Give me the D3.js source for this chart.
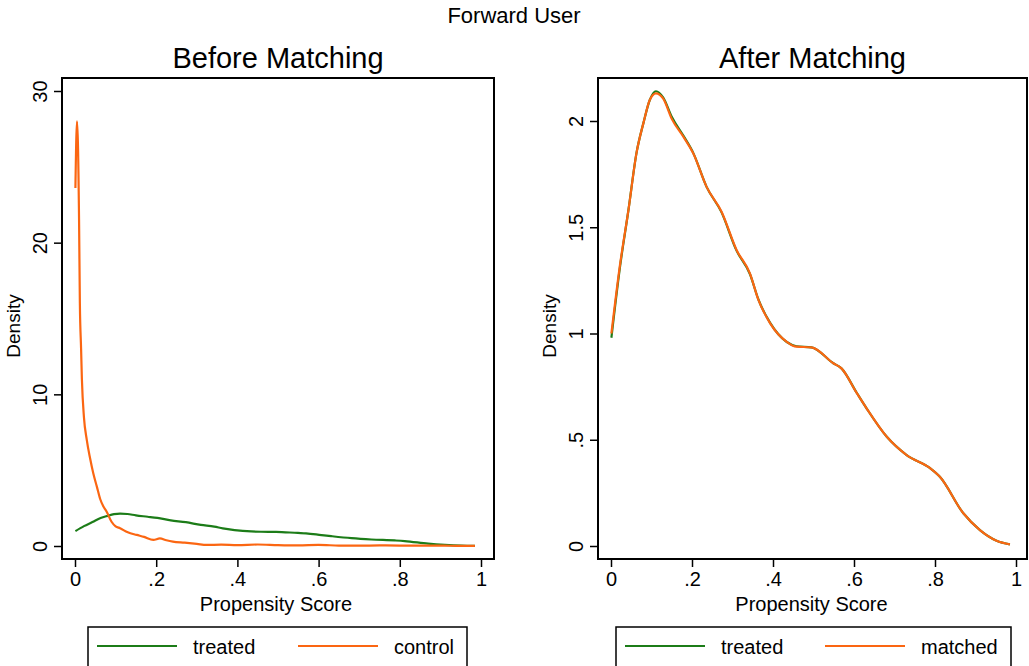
<!DOCTYPE html>
<html><head><meta charset="utf-8">
<script src="https://cdn.jsdelivr.net/npm/d3@7"></script>
<style>
html,body{margin:0;padding:0;background:#fff;}
svg{display:block;}
text{font-family:"Liberation Sans",Arial,sans-serif;fill:#000;}
</style></head>
<body>
<script>
// ---- data ----
const treatedX = [0.001,0.022,0.043,0.063,0.080,0.096,0.111,0.129,0.150,0.179,0.203,0.236,0.273,0.310,0.343,0.364,0.393,0.434,0.458,0.495,0.549,0.569,0.607,0.631,0.681,0.730,0.788,0.812,0.870,0.911,0.952,0.985];
const treatedY = [0.98,1.31,1.58,1.85,1.99,2.10,2.14,2.11,2.02,1.93,1.85,1.69,1.57,1.39,1.28,1.16,1.05,0.96,0.94,0.935,0.86,0.836,0.72,0.648,0.514,0.428,0.366,0.326,0.154,0.075,0.025,0.008];
const matchedY = [1.00,1.32,1.58,1.85,1.99,2.10,2.13,2.105,2.01,1.925,1.848,1.69,1.573,1.393,1.283,1.158,1.048,0.961,0.938,0.935,0.86,0.836,0.719,0.648,0.514,0.428,0.366,0.326,0.154,0.075,0.025,0.008];
const controlX = [0.001,0.005,0.010,0.012,0.015,0.017,0.022,0.029,0.037,0.045,0.054,0.062,0.070,0.078,0.090,0.100,0.111,0.130,0.152,0.170,0.193,0.209,0.225,0.241,0.270,0.300,0.324,0.360,0.400,0.450,0.500,0.550,0.600,0.650,0.700,0.750,0.800,0.850,0.900,0.950,0.985];
const controlY = [23.6,28.0,21.5,16.0,13.0,11.0,8.5,7.0,5.8,4.8,3.9,3.1,2.6,2.26,1.6,1.3,1.17,0.9,0.73,0.6,0.40,0.5,0.38,0.29,0.22,0.14,0.07,0.09,0.06,0.1,0.06,0.04,0.07,0.03,0.02,0.04,0.03,0.02,0.02,0.01,0.01];
const xTicks = [0,0.2,0.4,0.6,0.8,1];
const xTickLabels = ["0",".2",".4",".6",".8","1"];
const yTicksLeft = [0,10,20,30];
const yTickLabelsLeft = ["0","10","20","30"];
const yTicksRight = [0,0.5,1,1.5,2];
const yTickLabelsRight = ["0",".5","1","1.5","2"];
const mainTitle = "Forward User";
const panelTitles = ["Before Matching","After Matching"];
const xTitle = "Propensity Score";
const yTitle = "Density";
const legendLeft = ["treated","control"];
const legendRight = ["treated","matched"];

const GREEN = "#1c7c18";
const ORANGE = "#fb6612";

const W = 1029, H = 666;
const svg = d3.select("body").append("svg").attr("width",W).attr("height",H);

svg.append("text").attr("x",514).attr("y",23).attr("text-anchor","middle")
  .attr("font-size",22).text(mainTitle);

function panel(cfg){
  const g = svg.append("g");
  const x = d3.scaleLinear().domain([0,1]).range([cfg.x0,cfg.x1]);
  const y = d3.scaleLinear().domain(cfg.ydom).range([546, cfg.ytop]);
  g.append("rect").attr("x",cfg.bx0).attr("y",78).attr("width",cfg.bx1-cfg.bx0).attr("height",559-78)
    .attr("fill","none").attr("stroke","#000").attr("stroke-width",2);
  const xa = g.append("g").attr("transform",`translate(0,559)`)
    .call(d3.axisBottom(x).tickValues(xTicks).tickFormat((d,i)=>xTickLabels[i]).tickSize(8).tickPadding(4));
  xa.select(".domain").remove();
  xa.selectAll("line").attr("stroke","#000").attr("stroke-width",1.5);
  xa.selectAll("text").attr("font-size",20).attr("font-family","Liberation Sans, Arial, sans-serif").attr("dy","0.75em");
  const ya = g.append("g").attr("transform",`translate(${cfg.bx0},0)`)
    .call(d3.axisLeft(y).tickValues(cfg.yticks).tickFormat((d,i)=>cfg.ylabels[i]).tickSize(8).tickPadding(0));
  ya.select(".domain").remove();
  ya.selectAll("line").attr("stroke","#000").attr("stroke-width",1.5);
  ya.selectAll("text").attr("font-size",20).attr("font-family","Liberation Sans, Arial, sans-serif")
    .attr("text-anchor","middle").attr("x",0).attr("dy",0)
    .attr("transform",`translate(-15,0) rotate(-90)`);
  g.append("text").attr("x",(cfg.bx0+cfg.bx1)/2).attr("y",68).attr("text-anchor","middle")
    .attr("font-size",29).text(cfg.title);
  g.append("text").attr("x",(cfg.x0+cfg.x1)/2 - 2).attr("y",611).attr("text-anchor","middle")
    .attr("font-size",20).text(xTitle);
  g.append("text").attr("transform",`translate(${cfg.bx0-42},326) rotate(-90)`).attr("text-anchor","middle")
    .attr("font-size",19).text(yTitle);
  const line = d3.line().x(d=>x(d[0])).y(d=>y(d[1])).curve(d3.curveMonotoneX);
  cfg.series.forEach(s=>{
    g.append("path").datum(s.xs.map((v,i)=>[v,s.ys[i]])).attr("d",line)
      .attr("fill","none").attr("stroke",s.color).attr("stroke-width",2.2).attr("stroke-linejoin","round");
  });
  const lg = g.append("g");
  lg.append("rect").attr("x",cfg.lg.x).attr("y",627).attr("width",cfg.lg.w).attr("height",60)
    .attr("fill","#fff").attr("stroke","#000").attr("stroke-width",1.5);
  cfg.series.forEach((s,i)=>{
    const lx = cfg.lg.x + 9 + i*cfg.lg.step;
    lg.append("line").attr("x1",lx).attr("x2",lx+80).attr("y1",646).attr("y2",646)
      .attr("stroke",s.color).attr("stroke-width",2.2);
    lg.append("text").attr("x",lx+96).attr("y",654).attr("font-size",20).text(cfg.legend[i]);
  });
}

panel({bx0:62,bx1:494,x0:75,x1:481,ydom:[0,30],ytop:91,yticks:yTicksLeft,ylabels:yTickLabelsLeft,
  title:panelTitles[0],legend:legendLeft,lg:{x:88,w:379,step:201},
  series:[{xs:treatedX,ys:treatedY,color:GREEN},{xs:controlX,ys:controlY,color:ORANGE}]});
panel({bx0:598,bx1:1027,x0:611,x1:1016,ydom:[0,2],ytop:121,yticks:yTicksRight,ylabels:yTickLabelsRight,
  title:panelTitles[1],legend:legendRight,lg:{x:616,w:395,step:200},
  series:[{xs:treatedX,ys:treatedY,color:GREEN},{xs:treatedX,ys:matchedY,color:ORANGE}]});
</script>
</body></html>
